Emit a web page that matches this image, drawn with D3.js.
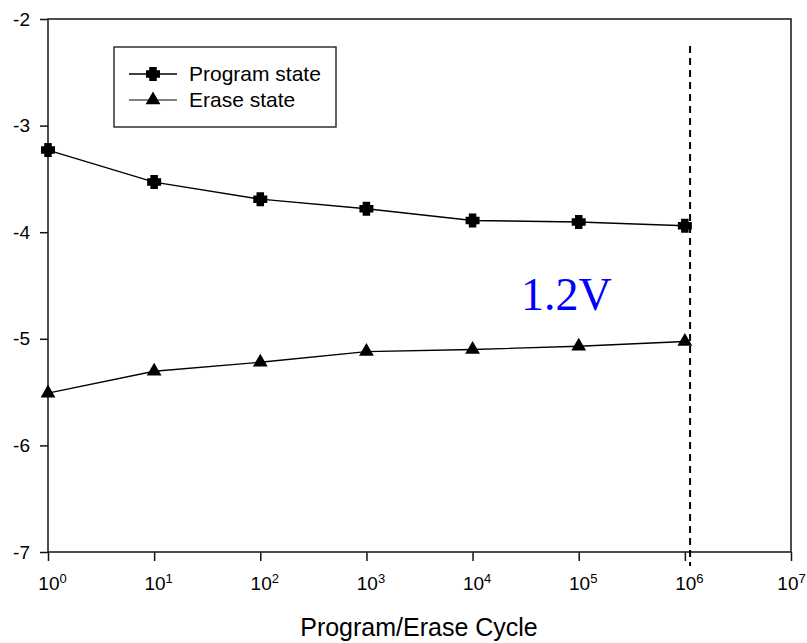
<!DOCTYPE html>
<html>
<head>
<meta charset="utf-8">
<script src="https://cdn.jsdelivr.net/npm/d3@7"></script>
<style>
  html, body { margin: 0; padding: 0; background: #fff; }
  svg { display: block; font-family: Arial, "Liberation Sans", Helvetica, sans-serif; }
</style>
</head>
<body>
<svg id="chart" width="807" height="643"></svg>
<script>
// P/E cycle counts and the threshold voltages of the two states
const cycles = [1, 10, 100, 1000, 10000, 100000, 1000000];
const programState = [-3.23, -3.53, -3.69, -3.78, -3.89, -3.905, -3.94];
const eraseState = [-5.51, -5.305, -5.22, -5.12, -5.10, -5.07, -5.025];
const seriesNames = ["Program state", "Erase state"];
const xTickExponents = [0, 1, 2, 3, 4, 5, 6, 7];
const yTicks = [-2, -3, -4, -5, -6, -7];
const limitCycle = [1.12e6];
const annotation = "1.2V";

const sans = "Arial, 'Liberation Sans', Helvetica, sans-serif";
const svg = d3.select("#chart");
const plot = { left: 48, top: 19, right: 791, bottom: 552 };

const x = d3.scaleLog().domain([1, 1e7]).range([plot.left, plot.right]);
const y = d3.scaleLinear().domain([-7, -2]).range([plot.bottom, plot.top]);

// Axes
const xAxis = svg.append("g")
  .attr("transform", `translate(0,${plot.bottom})`)
  .call(d3.axisBottom(x)
    .tickValues(xTickExponents.map(e => Math.pow(10, e)))
    .tickSize(9)
    .tickFormat(() => ""));
xAxis.attr("font-family", sans);
xAxis.select(".domain").remove();
xAxis.selectAll(".tick line").attr("stroke", "#111").attr("stroke-width", 1.5);
xAxis.selectAll(".tick text").each(function(d, i) {
  const last = i === xTickExponents.length - 1;
  const t = d3.select(this)
    .attr("font-size", 19)
    .attr("fill", "#000")
    .attr("y", 38)
    .attr("dy", 0)
    .attr("text-anchor", "middle")
    .attr("dx", last ? "0" : "4");
  t.append("tspan").text("10");
  t.append("tspan").attr("dy", -7).attr("font-size", 13).text(xTickExponents[i]);
});

const yAxis = svg.append("g")
  .attr("transform", `translate(${plot.left},0)`)
  .call(d3.axisLeft(y)
    .tickValues(yTicks)
    .tickSize(8)
    .tickPadding(10)
    .tickFormat(d3.format("d")));
yAxis.attr("font-family", sans);
yAxis.select(".domain").remove();
yAxis.selectAll(".tick line").attr("stroke", "#111").attr("stroke-width", 1.5);
yAxis.selectAll(".tick text")
  .attr("font-size", 19)
  .attr("fill", "#000")
  .text(d => d.toString().replace("\u2212", "-"));

// Plot frame
svg.append("rect")
  .attr("x", plot.left).attr("y", plot.top)
  .attr("width", plot.right - plot.left)
  .attr("height", plot.bottom - plot.top)
  .attr("fill", "none")
  .attr("stroke", "#222")
  .attr("stroke-width", 1.6);

// Endurance limit marker
svg.selectAll(".limit")
  .data(limitCycle)
  .join("line")
  .attr("class", "limit")
  .attr("x1", d => x(d)).attr("x2", d => x(d))
  .attr("y1", 46).attr("y2", 566)
  .attr("stroke", "#000")
  .attr("stroke-width", 2)
  .attr("stroke-dasharray", "7,5");

// Chunky plus marker
function plusPath(r, w) {
  const a = w / 2;
  return `M${-a},${-r}H${a}V${-a}H${r}V${a}H${a}V${r}H${-a}V${a}H${-r}V${-a}H${-a}Z`;
}
const triangle = d3.symbol().type(d3.symbolTriangle).size(95)();
const markers = [plusPath(7, 7.5), triangle];
const seriesData = [programState, eraseState];

const line = d3.line()
  .x(d => x(d[0]))
  .y(d => y(d[1]));

seriesData.forEach((vals, s) => {
  const pts = cycles.map((c, i) => [c, vals[i]]);
  svg.append("path")
    .datum(pts)
    .attr("fill", "none")
    .attr("stroke", "#000")
    .attr("stroke-width", 1.4)
    .attr("d", line);
  svg.selectAll(".m" + s)
    .data(pts)
    .join("path")
    .attr("class", "m" + s)
    .attr("transform", d => `translate(${x(d[0])},${y(d[1])})`)
    .attr("d", markers[s])
    .attr("fill", "#000");
});

// Annotation
svg.append("text")
  .attr("x", 521)
  .attr("y", 310)
  .attr("font-family", "'Liberation Serif', 'Times New Roman', Times, serif")
  .attr("font-size", 46)
  .attr("fill", "#0000ff")
  .text(annotation);

// Legend
const legend = svg.append("g");
legend.append("rect")
  .attr("x", 114).attr("y", 47)
  .attr("width", 222).attr("height", 80)
  .attr("fill", "#fff")
  .attr("stroke", "#222")
  .attr("stroke-width", 1.4);
seriesNames.forEach((name, i) => {
  const cy = 74 + i * 26;
  legend.append("line")
    .attr("x1", 129).attr("x2", 177)
    .attr("y1", cy).attr("y2", cy)
    .attr("stroke", i === 0 ? "#000" : "#555")
    .attr("stroke-width", 1.4);
  legend.append("path")
    .attr("transform", `translate(153,${cy})`)
    .attr("d", markers[i])
    .attr("fill", "#000");
  legend.append("text")
    .attr("x", 189).attr("y", cy)
    .attr("dy", "0.35em")
    .attr("font-family", sans)
    .attr("font-size", 21)
    .attr("fill", "#000")
    .text(name);
});

// Axis title
svg.append("text")
  .attr("x", 419)
  .attr("y", 636)
  .attr("text-anchor", "middle")
  .attr("font-family", sans)
  .attr("font-size", 25)
  .attr("fill", "#000")
  .text("Program/Erase Cycle");
</script>
</body>
</html>
